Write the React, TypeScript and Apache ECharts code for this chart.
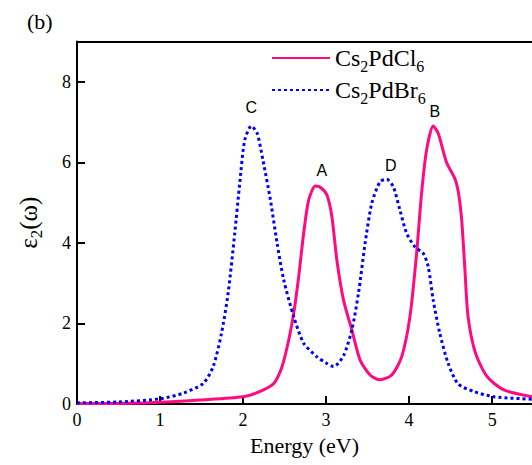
import React, { useEffect, useRef } from "react";
import * as echarts from "echarts";

// Cs2PdCl6 (solid pink)
const clEnergy = [0, 0.5, 0.88, 1.48, 2.0, 2.2, 2.37, 2.47, 2.55, 2.61, 2.67, 2.73, 2.79, 2.87, 2.93, 3.01, 3.07, 3.13, 3.21, 3.31, 3.41, 3.53, 3.65, 3.79, 3.91, 4.01, 4.09, 4.15, 4.21, 4.29, 4.35, 4.45, 4.55, 4.59, 4.63, 4.67, 4.71, 4.8, 4.94, 5.14, 5.48];
const clEps = [0.01, 0.015, 0.03, 0.1, 0.18, 0.31, 0.51, 0.93, 1.59, 2.25, 3.16, 4.24, 5.06, 5.41, 5.38, 5.19, 4.65, 3.57, 2.58, 1.84, 1.09, 0.72, 0.6, 0.72, 1.17, 2.17, 3.74, 5.23, 6.3, 6.9, 6.72, 6.0, 5.6, 5.3, 4.65, 3.41, 2.17, 1.26, 0.68, 0.35, 0.18];

// Cs2PdBr6 (dotted blue)
const brEnergy = [0, 0.5, 1.0, 1.28, 1.52, 1.64, 1.74, 1.82, 1.9, 1.96, 2.02, 2.1, 2.17, 2.24, 2.33, 2.41, 2.49, 2.61, 2.73, 2.89, 3.0, 3.09, 3.21, 3.31, 3.39, 3.47, 3.55, 3.65, 3.73, 3.81, 3.89, 3.97, 4.07, 4.17, 4.23, 4.29, 4.37, 4.47, 4.59, 4.78, 5.02, 5.48];
const brEps = [0.03, 0.05, 0.13, 0.27, 0.51, 0.93, 1.75, 2.75, 4.24, 5.48, 6.55, 6.9, 6.72, 6.05, 5.06, 3.99, 3.08, 2.17, 1.51, 1.17, 1.02, 0.93, 1.2, 1.84, 2.75, 3.99, 4.98, 5.52, 5.58, 5.39, 4.81, 4.24, 3.9, 3.74, 3.41, 2.58, 1.75, 1.01, 0.5, 0.31, 0.18, 0.12];

// Peak labels: name, energy, eps (label anchor)
const peakNames = ["C", "A", "D", "B"];
const peakEnergy = [2.1, 2.95, 3.78, 4.31];
const peakEps = [7.37, 5.8, 5.92, 7.25];

const xTicks = { min: 0, max: 5.48, interval: 1 };
const yTicks = { min: 0, max: 9, interval: 2 };

const serif = "Liberation Serif";
const sans = "Liberation Sans";

export default function App() {
  const ref = useRef<HTMLDivElement>(null);
  useEffect(() => {
    if (!ref.current) return;
    const chart = echarts.init(ref.current, null, { renderer: "svg" });
    const clData = clEnergy.map((x, i) => [x, clEps[i]]);
    const brData = brEnergy.map((x, i) => [x, brEps[i]]);
    const richLegend = {
      a: { fontFamily: serif, fontSize: 24, color: "#000" },
      s: { fontFamily: serif, fontSize: 16, color: "#000", padding: [16, 0, 0, 0] },
    };
    chart.setOption({
      animation: false,
      backgroundColor: "#fff",
      grid: { left: 77, right: 0, top: 41.5, bottom: 61, containLabel: false },
      legend: {
        orient: "vertical",
        left: 266,
        top: 41,
        itemWidth: 58,
        itemHeight: 14,
        itemGap: 4,
        itemStyle: { opacity: 0 },
        data: ["Cs2PdCl6", "Cs2PdBr6"],
        formatter: (name: string) =>
          name === "Cs2PdCl6"
            ? "{a|Cs}{s|2}{a|PdCl}{s|6}"
            : "{a|Cs}{s|2}{a|PdBr}{s|6}",
        textStyle: { fontFamily: serif, rich: richLegend },
      },
      xAxis: [
        {
          type: "value",
          min: xTicks.min,
          max: xTicks.max,
          interval: xTicks.interval,
          name: "Energy (eV)",
          nameLocation: "middle",
          nameGap: 30,
          nameTextStyle: { fontFamily: serif, fontSize: 22, color: "#000" },
          axisLine: { show: true, onZero: false, lineStyle: { color: "#000", width: 2 } },
          axisTick: { show: true, inside: true, length: 8, lineStyle: { color: "#000", width: 2 } },
          axisLabel: { fontFamily: serif, fontSize: 18, color: "#000", margin: 7, showMaxLabel: false },
          splitLine: { show: false },
        },
        {
          type: "value",
          position: "top",
          min: xTicks.min,
          max: xTicks.max,
          axisLine: { show: true, onZero: false, lineStyle: { color: "#000", width: 2 } },
          axisTick: { show: false },
          axisLabel: { show: false },
          splitLine: { show: false },
        },
      ],
      yAxis: {
        type: "value",
        min: yTicks.min,
        max: yTicks.max,
        interval: yTicks.interval,
        name: "{e|ε}{s|2}{e|(ω)}",
        nameLocation: "middle",
        nameGap: 32,
        nameRotate: 90,
        nameTextStyle: {
          fontFamily: serif,
          rich: {
            e: { fontFamily: serif, fontSize: 25, color: "#000" },
            s: { fontFamily: serif, fontSize: 17, color: "#000", padding: [16, 0, 0, 0] },
          },
        },
        axisLine: { show: true, onZero: false, lineStyle: { color: "#000", width: 2 } },
        axisTick: { show: true, inside: true, length: 8, lineStyle: { color: "#000", width: 2 } },
        axisLabel: { fontFamily: serif, fontSize: 18, color: "#000", margin: 6, showMaxLabel: false },
        splitLine: { show: false },
      },
      graphic: [
        {
          type: "text",
          left: 27,
          top: 10,
          style: { text: "(b)", font: `22px ${serif}`, fill: "#000" },
        },
      ],
      series: [
        {
          name: "Cs2PdCl6",
          type: "line",
          data: clData,
          smooth: 0.25,
          showSymbol: false,
          symbol: "none",
          lineStyle: { color: "#FF0A80", width: 3 },
          itemStyle: { color: "#FF0A80" },
          markPoint: {
            symbol: "circle",
            symbolSize: 0,
            label: {
              show: true,
              position: "inside",
              formatter: (p: any) => p.name,
              fontFamily: sans,
              fontSize: 16,
              color: "#000",
            },
            data: peakNames.map((n, i) => ({ name: n, coord: [peakEnergy[i], peakEps[i]] })),
          },
        },
        {
          name: "Cs2PdBr6",
          type: "line",
          data: brData,
          smooth: 0.25,
          showSymbol: false,
          symbol: "none",
          lineStyle: { color: "#0000FF", width: 3, type: [3, 3] },
          itemStyle: { color: "#0000FF" },
        },
      ],
    });
    return () => chart.dispose();
  }, []);
  return <div ref={ref} style={{ width: 532, height: 465, position: "fixed", left: 0, top: 0 }} />;
}
